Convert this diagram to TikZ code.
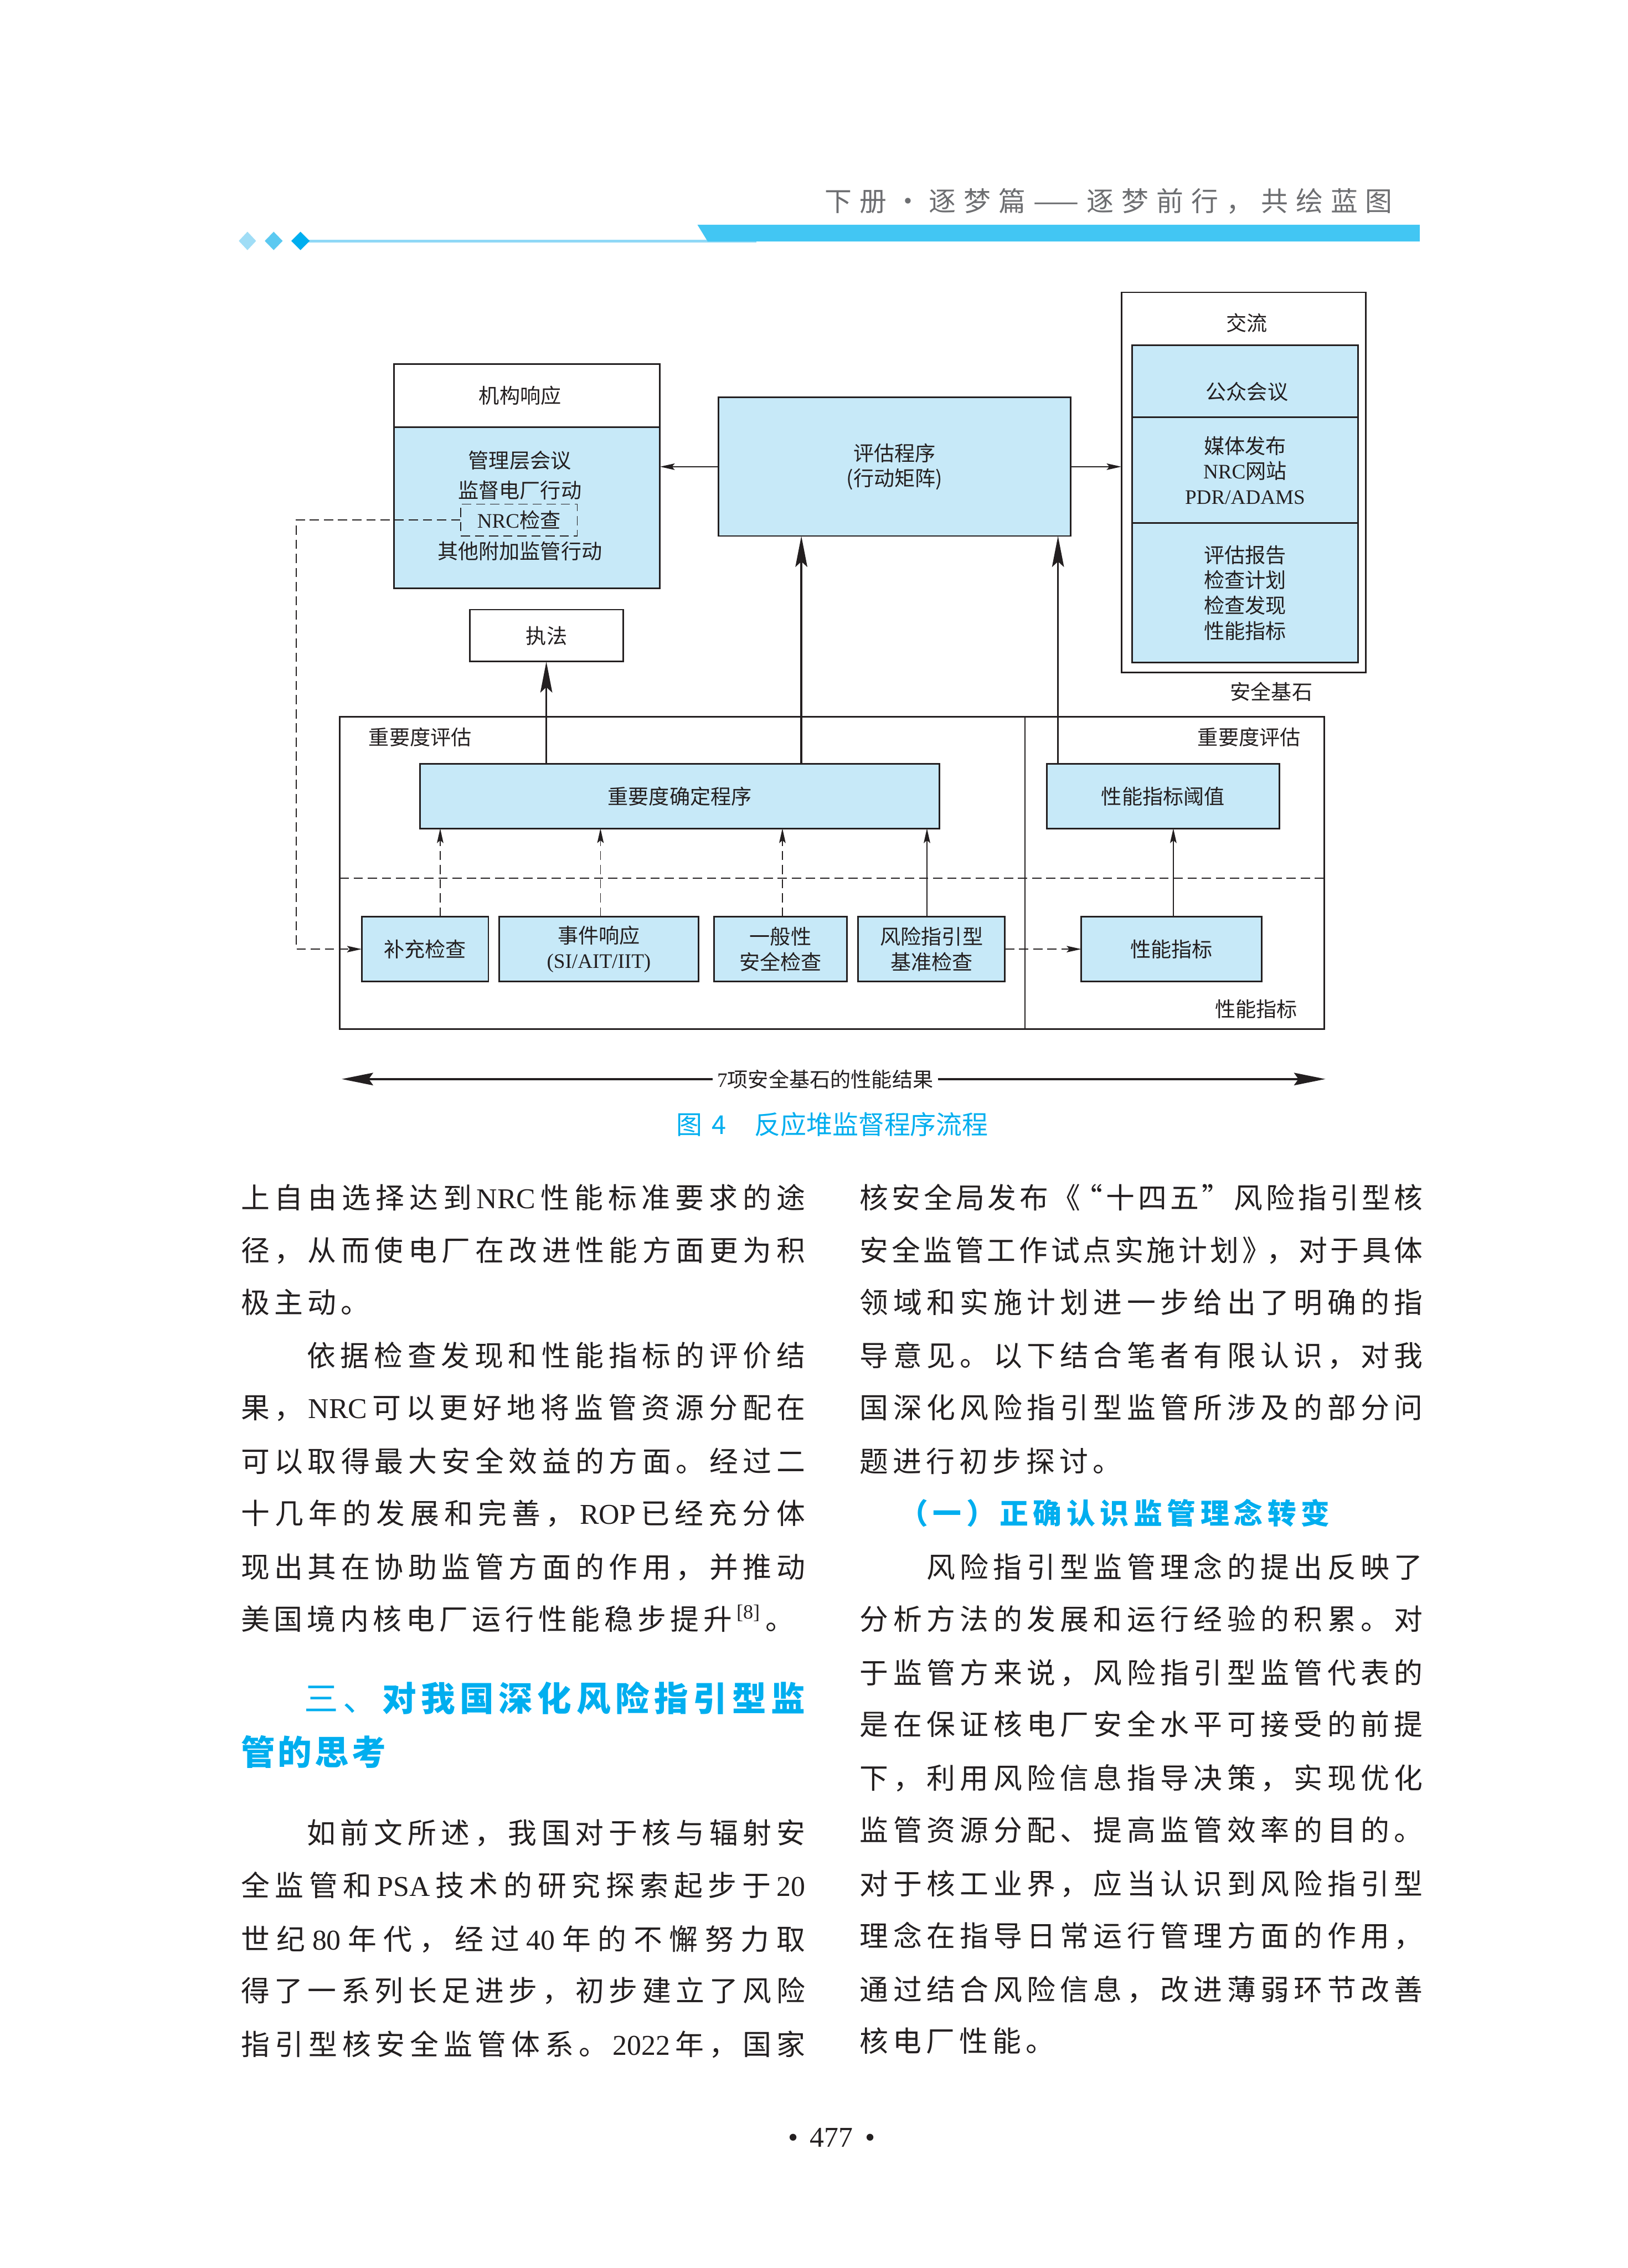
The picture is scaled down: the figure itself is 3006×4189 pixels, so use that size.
\documentclass[tikz,border=0pt]{standalone}
\usepackage{fontspec}
\setmainfont{Noto Sans CJK SC}
\newfontfamily\lat{Liberation Serif}
\usetikzlibrary{arrows.meta}
\newdimen\px \px=0.07mm
\definecolor{lb}{HTML}{C7E9F8}
\definecolor{ln}{HTML}{231F20}
\definecolor{cy}{HTML}{00AEEF}
\definecolor{hbar}{HTML}{42C6F3}
\definecolor{hline}{HTML}{8FD8F6}
\definecolor{dA}{HTML}{A0DDF6}
\definecolor{dB}{HTML}{5BC9F1}
\definecolor{dC}{HTML}{00AEEF}
\definecolor{hgray}{HTML}{6D6E71}
\definecolor{body}{HTML}{231F20}
\newcommand\dfont{\fontsize{7.57pt}{9.3pt}\selectfont}
\newcommand\bfont{\fontsize{10.56pt}{12pt}\selectfont}
\makeatletter
\newcommand\jline[2]{\makebox[#1\px][s]{\def\js@sep{}\@tfor\js@x:=#2\do{\js@sep{\js@x}\def\js@sep{\hskip 0pt plus 1fil}}}}
\makeatother
\newcommand\bl[5]{\node[anchor=base west, inner sep=0pt, text=body] (#1) at (#2,#3) {\bfont\jline{#4}{#5}};}
\tikzset{
 sz/.style 2 args={minimum width=#1*0.07mm, minimum height=#2*0.07mm},
 bx/.style={draw=ln, line width=0.6pt, fill=lb, inner sep=0pt, outer sep=0pt, font=\dfont, text=ln, align=center},
 wb/.style={bx, fill=white},
 lbl/.style={inner sep=0pt, font=\dfont, text=ln, align=center},
 con/.style={draw=ln, line width=0.4pt},
 bigc/.style={draw=ln, line width=0.7pt},
 dsh/.style={draw=ln, line width=0.3pt, dash pattern=on 3.4pt off 1.8pt},
 bigtip/.tip={Stealth[length=4mm, width=1.54mm, inset=0.7mm]},
 smtip/.tip={Stealth[length=1.9mm, width=0.84mm, inset=0.35mm]},
 dbltip/.tip={Stealth[length=4.06mm, width=1.61mm, inset=0.56mm]},
}
\begin{document}
\begin{tikzpicture}[x=0.07mm, y=-0.07mm]
\useasboundingbox (0,0) rectangle (3006,4189);
\fill[white] (0,0) rectangle (3006,4189);

% ---------- header ----------
\fill[hline] (569,443) rectangle (1397,448);
\fill[hbar] (1288,415) -- (2622,415) -- (2622,446) -- (1307,446) -- cycle;
\fill[dA] (457,428) -- (473,445) -- (457,462) -- (441,445) -- cycle;
\fill[dB] (505.5,428) -- (522,445) -- (505.5,462) -- (489,445) -- cycle;
\fill[dC] (555,428) -- (572,445) -- (555,462) -- (538,445) -- cycle;
\node[anchor=base west, inner sep=0pt, text=hgray] (hdr) at (1522,390)
  {\fontsize{9.96pt}{12pt}\selectfont\jline{1049}{下册{•}逐梦篇{——}逐梦前行，共绘蓝图}};

% ---------- diagram ----------
\node[wb, sz={491}{117}] (jgh) at (973.5,730.5) {机构响应\hspace{26\px}};
\node[bx, sz={491}{298}] (jgb) at (973.5,938) {};
\node[lbl] (t1) at (960,850) {管理层会议};
\node[lbl] (t2) at (960,906) {监督电厂行动};
\node[dsh, inner sep=0pt, sz={215}{59}, font=\dfont, text=ln] (nrc) at (958.5,960.5) {{\lat NRC}检查};
\node[lbl] (t4) at (960,1018) {其他附加监管行动};

\node[bx, sz={650}{256}] (pg) at (1652,862) {评估程序\\(行动矩阵)};

\node[wb, sz={451}{702}] (jl) at (2296.5,891) {};
\node[lbl] (jlt) at (2303,596) {交流};
\node[bx, sz={417}{133}] (gz) at (2299.5,704.5) {};
\node[lbl] (gzt) at (2303,723) {公众会议};
\node[bx, sz={417}{195}] (mt) at (2299.5,868.5) {媒体发布\\{\lat NRC}网站\\{\lat PDR/ADAMS}};
\node[bx, sz={417}{258}] (pb) at (2299.5,1095) {评估报告\\检查计划\\检查发现\\性能指标};
\node[lbl] (aq) at (2348,1278) {安全基石};

\node[wb, sz={283}{96}] (zf) at (1009.5,1174) {执法};

\node[draw=ln, line width=0.6pt, inner sep=0pt, outer sep=0pt, sz={1819}{577}] (big) at (1536.5,1612.5) {};
\coordinate (xdiv) at (1893,0);
\draw[con, line width=0.5pt] (big.north -| xdiv) -- (big.south -| xdiv);
\coordinate (ydsh) at (0,1622);
\draw[dsh] (big.west |- ydsh) -- (big.east |- ydsh);

\node[lbl] (zp1) at (776,1362) {重要度评估};
\node[lbl] (zp2) at (2307,1362) {重要度评估};
\node[lbl] (xn) at (2320,1864) {性能指标};

\node[bx, sz={959}{119}] (zy) at (1255.5,1470.5) {重要度确定程序};
\node[bx, sz={430}{119}] (yz) at (2148,1470.5) {性能指标阈值};
\node[bx, sz={234}{120}] (b1) at (785,1753) {补充检查};
\node[bx, sz={368}{120}] (b2) at (1106,1753) {事件响应\\{\lat (SI/AIT/IIT)}};
\node[bx, sz={245}{120}] (b3) at (1441.5,1753) {一般性\\安全检查};
\node[bx, sz={271}{120}] (b4) at (1720.5,1753) {风险指引型\\基准检查};
\node[bx, sz={333}{120}] (b5) at (2163.5,1753) {性能指标};

\draw[con, -{smtip}] (pg.west) -- (pg.west -| jgb.east);
\draw[con, -{smtip}] (pg.east) -- (pg.east -| jl.west);
\foreach \n/\v in {xa/813, xb/1109, xc/1445, xd/1712, xe/2167, xf/1009, xg/1480, xh/1954, xl/547}
  \coordinate (\n) at (\v,0);
\draw[bigc, -{bigtip}] (zy.north -| xf) -- (zf.south -| xf);
\draw[bigc, -{bigtip}] (zy.north -| xg) -- (pg.south -| xg);
\draw[bigc, -{bigtip}] (yz.north -| xh) -- (pg.south -| xh);
\draw[dsh, -{smtip}] (b1.north -| xa) -- (zy.south -| xa);
\draw[dsh, -{smtip}] (b2.north -| xb) -- (zy.south -| xb);
\draw[dsh, -{smtip}] (b3.north -| xc) -- (zy.south -| xc);
\draw[con, -{smtip}] (b4.north -| xd) -- (zy.south -| xd);
\draw[con, -{smtip}] (b5.north -| xe) -- (yz.south -| xe);
\draw[dsh, -{smtip}] (nrc.west) -- (nrc.west -| xl) -- (b1.west -| xl) -- (b1.west);
\draw[dsh, -{smtip}] (b4.east) -- (b5.west);

\coordinate (al) at (631,1993);
\coordinate (ar) at (2448,1993);
\draw[draw=ln, line width=0.8pt, {dbltip}-{dbltip}] (al) -- node[pos=0.4915, fill=white, inner xsep=0.6mm, inner ysep=0.5mm, font=\dfont, text=ln] (res) {{\lat 7}项安全基石的性能结果} (ar);

\node[text=cy, inner sep=0pt] (cap) at (1537,2077)
  {\fontsize{9.56pt}{11pt}\selectfont 图\hspace{18\px}4\hspace{52\px}反应堆监督程序流程};

% ---------- left column ----------
\bl{l1}{444}{2232}{1042}{上自由选择达到{\lat NRC}性能标准要求的途}
\bl{l2}{444}{2329}{1042}{径，从而使电厂在改进性能方面更为积}
\bl{l3}{444}{2425}{237}{极主动。}
\bl{l4}{566}{2524}{920}{依据检查发现和性能指标的评价结}
\bl{l5}{444}{2620}{1042}{果，{\lat NRC}可以更好地将监管资源分配在}
\bl{l6}{444}{2719}{1042}{可以取得最大安全效益的方面。经过二}
\bl{l7}{444}{2815}{1042}{十几年的发展和完善，{\lat ROP}已经充分体}
\bl{l8}{444}{2914}{1042}{现出其在协助监管方面的作用，并推动}
\bl{l9}{444}{3010}{1022}{美国境内核电厂运行性能稳步提升{\lat\textsuperscript{[8]}}。}
\node[anchor=base west, inner sep=0pt, text=cy] (h1) at (561,3161)
  {\fontsize{12.55pt}{14pt}\selectfont\bfseries\jline{925}{{\mdseries 三}{\mdseries 、}对我国深化风险指引型监}};
\node[anchor=base west, inner sep=0pt, text=cy] (h2) at (444,3260)
  {\fontsize{12.55pt}{14pt}\selectfont\bfseries\jline{268}{管的思考}};
\bl{l10}{566}{3405}{920}{如前文所述，我国对于核与辐射安}
\bl{l11}{444}{3502}{1042}{全监管和{\lat PSA}技术的研究探索起步于{\lat 20}}
\bl{l12}{444}{3601}{1042}{世纪{\lat 80}年代，经过{\lat 40}年的不懈努力取}
\bl{l13}{444}{3697}{1042}{得了一系列长足进步，初步建立了风险}
\bl{l14}{444}{3796}{1042}{指引型核安全监管体系。{\lat 2022}年，国家}

% ---------- right column ----------
\bl{r1}{1587}{2232}{1040}{核安全局发布{《\kern-12\px“}十四五{”}风险指引型核}
\bl{r2}{1587}{2329}{1040}{安全监管工作试点实施计划{》\kern-8\px，}对于具体}
\bl{r3}{1587}{2425}{1040}{领域和实施计划进一步给出了明确的指}
\bl{r4}{1587}{2524}{1040}{导意见。以下结合笔者有限认识，对我}
\bl{r5}{1587}{2620}{1040}{国深化风险指引型监管所涉及的部分问}
\bl{r6}{1587}{2719}{483}{题进行初步探讨。}
\node[anchor=base west, inner sep=0pt, text=cy] (s1) at (1660,2815)
  {\bfont\bfseries\jline{795}{（一）正确认识监管理念转变}};
\bl{r7}{1710}{2914}{917}{风险指引型监管理念的提出反映了}
\bl{r8}{1587}{3010}{1040}{分析方法的发展和运行经验的积累。对}
\bl{r9}{1587}{3109}{1040}{于监管方来说，风险指引型监管代表的}
\bl{r10}{1587}{3205}{1040}{是在保证核电厂安全水平可接受的前提}
\bl{r11}{1587}{3304}{1040}{下，利用风险信息指导决策，实现优化}
\bl{r12}{1587}{3400}{1040}{监管资源分配、提高监管效率的目的。}
\bl{r13}{1587}{3499}{1040}{对于核工业界，应当认识到风险指引型}
\bl{r14}{1587}{3595}{1040}{理念在指导日常运行管理方面的作用，}
\bl{r15}{1587}{3694}{1040}{通过结合风险信息，改进薄弱环节改善}
\bl{r16}{1587}{3790}{360}{核电厂性能。}

\node[anchor=base, inner sep=0pt, text=body] (pn) at (1536,3965)
  {\lat\fontsize{10.56pt}{12pt}\selectfont •\hspace{22\px}477\hspace{22\px}•};
\end{tikzpicture}
\end{document}
